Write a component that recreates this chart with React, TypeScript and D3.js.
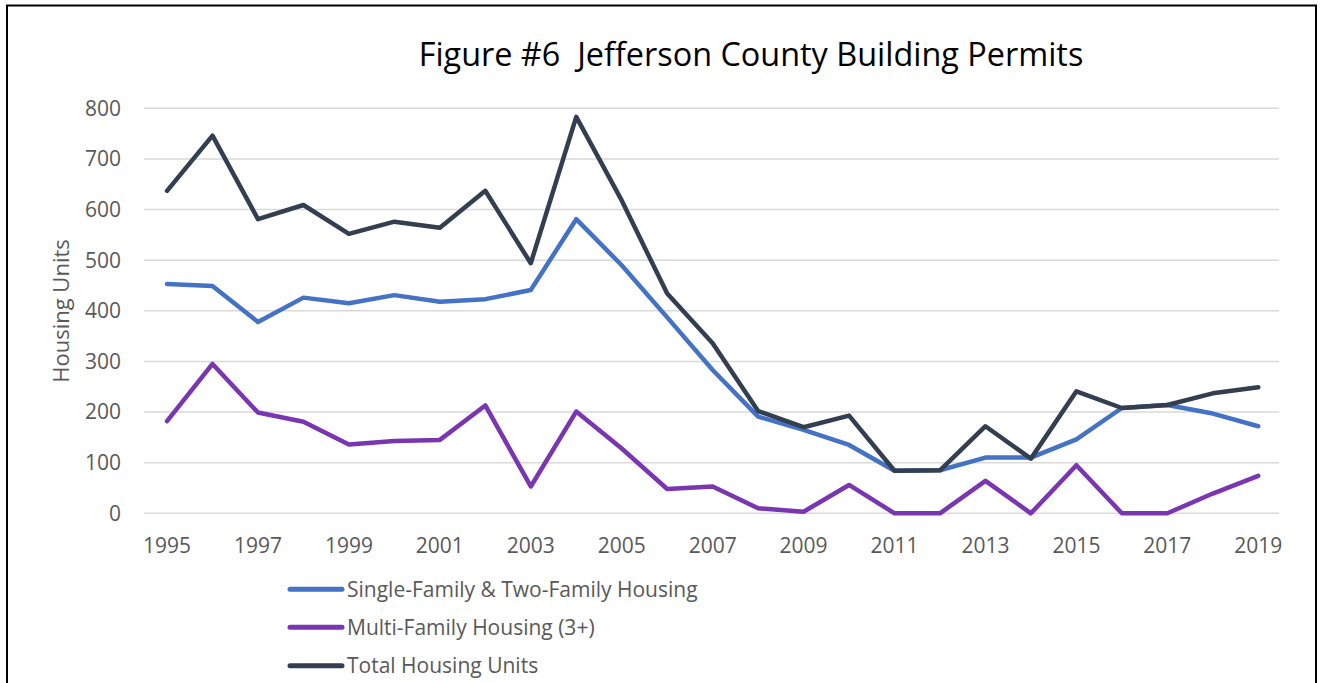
import React, { useEffect, useRef } from 'react';
import * as d3 from 'd3';

const years = [1995,1996,1997,1998,1999,2000,2001,2002,2003,2004,2005,2006,2007,2008,2009,2010,2011,2012,2013,2014,2015,2016,2017,2018,2019];
const singleFamily = [453,449,378,426,415,431,418,423,441,581,490,387,283,191,165,135,84,85,110,110,146,208,214,197,172];
const multiFamily = [182,295,199,181,136,143,145,213,53,201,128,48,53,10,3,56,0,0,64,0,95,0,0,39,74];
const totalUnits = [637,746,581,609,552,576,564,637,494,783,618,434,336,202,170,193,84,85,172,108,241,208,214,237,249];
const yTicks = [0,100,200,300,400,500,600,700,800];
const xTickLabels = [1995,1997,1999,2001,2003,2005,2007,2009,2011,2013,2015,2017,2019];

const seriesNames = ['Single-Family & Two-Family Housing','Multi-Family Housing (3+)','Total Housing Units'];
const seriesColors = ['#4472C4','#7A35B0','#333F50'];

const FONT = '"Open Sans", sans-serif';

const App = () => {
  const ref = useRef<SVGSVGElement>(null);

  useEffect(() => {
    const svg = d3.select(ref.current);
    svg.selectAll('*').remove();

    // outer frame, bottom edge is off the page
    svg.append('rect')
      .attr('x', 7).attr('y', 5.5)
      .attr('width', 1309).attr('height', 720)
      .attr('fill', 'white').attr('stroke', 'black').attr('stroke-width', 2);

    const x = d3.scalePoint<number>()
      .domain(years)
      .range([144.3, 1281])
      .padding(0.5);
    const y = d3.scaleLinear().domain([0, 800]).range([513.3, 108.3]);

    // gridlines
    svg.append('g').selectAll('line')
      .data(yTicks)
      .join('line')
      .attr('x1', 144).attr('x2', 1279)
      .attr('y1', d => y(d)).attr('y2', d => y(d))
      .attr('stroke', '#D9D9D9').attr('stroke-width', 1.5);

    // y tick labels
    svg.append('g').selectAll('text')
      .data(yTicks)
      .join('text')
      .attr('x', 121).attr('y', d => y(d))
      .attr('dy', '0.35em')
      .attr('text-anchor', 'end')
      .attr('font-family', FONT).attr('font-size', 21)
      .attr('fill', '#595959')
      .text(d => d);

    // x tick labels
    svg.append('g').selectAll('text')
      .data(xTickLabels)
      .join('text')
      .attr('x', d => x(d) as number).attr('y', 553)
      .attr('text-anchor', 'middle')
      .attr('font-family', FONT).attr('font-size', 21)
      .attr('fill', '#595959')
      .text(d => d);

    // axis title
    svg.append('text')
      .attr('transform', 'translate(69,311) rotate(-90)')
      .attr('text-anchor', 'middle')
      .attr('font-family', FONT).attr('font-size', 22)
      .attr('fill', '#595959')
      .text('Housing Units');

    // chart title
    svg.append('text')
      .attr('x', 751).attr('y', 66)
      .attr('text-anchor', 'middle')
      .attr('font-family', FONT).attr('font-size', 32.4)
      .attr('fill', 'black')
      .attr('xml:space', 'preserve')
      .text('Figure #6  Jefferson County Building Permits');

    const line = d3.line<number>()
      .x((d, i) => x(years[i]) as number)
      .y(d => y(d));

    const allSeries = [singleFamily, multiFamily, totalUnits];
    allSeries.forEach((s, i) => {
      svg.append('path')
        .datum(s)
        .attr('d', line)
        .attr('fill', 'none')
        .attr('stroke', seriesColors[i])
        .attr('stroke-width', 4.5)
        .attr('stroke-linejoin', 'round')
        .attr('stroke-linecap', 'round');
    });

    // legend
    const legendY = [589.3, 627.3, 665.7];
    seriesNames.forEach((name, i) => {
      svg.append('line')
        .attr('x1', 290).attr('x2', 342)
        .attr('y1', legendY[i]).attr('y2', legendY[i])
        .attr('stroke', seriesColors[i])
        .attr('stroke-width', 5)
        .attr('stroke-linecap', 'round');
      svg.append('text')
        .attr('x', 347).attr('y', legendY[i])
        .attr('dy', '0.35em')
        .attr('font-family', FONT).attr('font-size', 21)
        .attr('fill', '#595959')
        .text(name);
    });
  }, []);

  return (
    <svg ref={ref} width={1325} height={683}
      style={{ position: 'absolute', left: 0, top: 0, background: 'white' }} />
  );
};

export default App;
